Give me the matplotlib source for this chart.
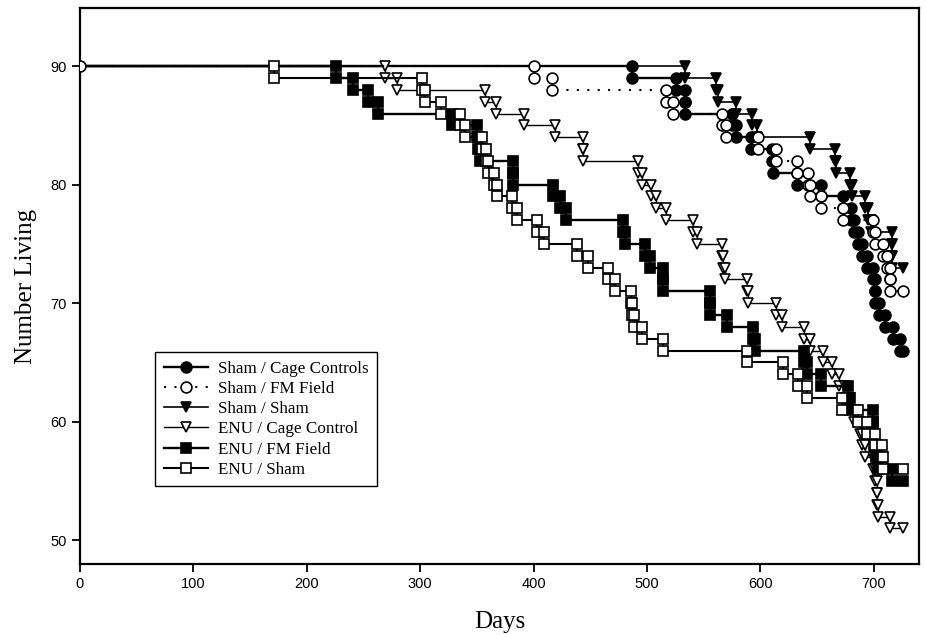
import matplotlib
matplotlib.use("Agg")
import matplotlib.pyplot as plt

# death days per group (ties repeated); every group starts with 90 animals
start_n = 90
end_day = 726

sham_cage_deaths = [487, 526, 534, 534, 575, 579, 592, 610, 611, 632, 654, 673,
                    680, 683, 686, 690, 694, 699, 701, 701, 705, 710, 717, 723]
sham_fm_deaths = [400, 416, 517, 523, 566, 570, 598, 614, 632, 642, 644, 654,
                  673, 699, 701, 708, 712, 714, 714]
sham_sham_deaths = [534, 561, 563, 579, 593, 597, 644, 666, 667, 679, 681, 692,
                    695, 698, 716, 716, 716]
enu_cage_deaths = [269, 280, 357, 367, 392, 419, 444, 444, 492, 496, 504, 508,
                   517, 541, 544, 566, 567, 569, 588, 589, 614, 619, 639, 644,
                   655, 663, 669, 675, 679, 683, 688, 690, 692, 699, 701, 703,
                   703, 704, 714]
enu_fm_deaths = [226, 241, 254, 263, 328, 350, 351, 353, 382, 382, 417, 423,
                 429, 479, 481, 498, 503, 514, 514, 556, 556, 571, 594, 595,
                 639, 641, 654, 677, 679, 699, 699, 700, 702, 704, 716]
enu_sham_deaths = [171, 302, 304, 318, 335, 340, 355, 358, 360, 365, 368, 381,
                   385, 403, 409, 438, 448, 466, 472, 486, 487, 489, 496, 514,
                   588, 620, 633, 641, 672, 686, 694, 701, 707, 708]

labels = ["Sham / Cage Controls", "Sham / FM Field", "Sham / Sham",
          "ENU / Cage Control", "ENU / FM Field", "ENU / Sham"]


def step_points(deaths):
    xs, ys = [0], [start_n]
    n = start_n
    for t in deaths:
        xs += [t, t]
        ys += [n, n - 1]
        n -= 1
    xs.append(end_day)
    ys.append(n)
    return xs, ys


styles = [
    dict(marker="o", mfc="black", ls="-", lw=1.7, ms=7.8),
    dict(marker="o", mfc="white", ls=(0, (1, 4)), lw=1.5, ms=7.8),
    dict(marker="v", mfc="black", ls="-", lw=1.2, ms=7.8),
    dict(marker="v", mfc="white", ls="-", lw=1.0, ms=7.8),
    dict(marker="s", mfc="black", ls="-", lw=1.7, ms=6.8),
    dict(marker="s", mfc="white", ls="-", lw=1.5, ms=6.8),
]
groups = [sham_cage_deaths, sham_fm_deaths, sham_sham_deaths,
          enu_cage_deaths, enu_fm_deaths, enu_sham_deaths]

fig = plt.figure(figsize=(9.26, 6.35), dpi=100)
ax = fig.add_axes([80 / 926, 1 - 564 / 635, 839 / 926, 556 / 635])

for i, (deaths, lab, st) in enumerate(zip(groups, labels, styles)):
    xs, ys = step_points(deaths)
    every = slice(0, None) if i == 1 else slice(1, None)
    ax.plot(xs, ys, color="black", linestyle=st["ls"], linewidth=st["lw"],
            marker=st["marker"], markersize=st["ms"], markerfacecolor=st["mfc"],
            markeredgecolor="black", markeredgewidth=1.2, markevery=every,
            label=lab, zorder=3 + (1 if i == 1 else 0))

ax.set_xlim(0, 740)
ax.set_ylim(48, 94.9)
ax.set_xticks(range(0, 701, 100))
ax.set_yticks(range(50, 91, 10))

for s in ax.spines.values():
    s.set_linewidth(1.6)
ax.tick_params(direction="out", length=6, width=1.3, labelsize=10.5)
for t in ax.get_xticklabels() + ax.get_yticklabels():
    t.set_family("Liberation Sans")

ax.set_xlabel("Days", family="Liberation Serif", fontsize=18, labelpad=14)
ax.set_ylabel("Number Living", family="Liberation Serif", fontsize=18, labelpad=10)

leg = ax.legend(loc="upper left", bbox_to_anchor=(155 / 926, 1 - 352 / 635),
                bbox_transform=fig.transFigure, borderaxespad=0,
                prop={"family": "Liberation Serif", "size": 12.3},
                fancybox=False, framealpha=1, edgecolor="black",
                handlelength=2.6, handletextpad=0.6, labelspacing=0.25,
                borderpad=0.5, numpoints=1)
leg.get_frame().set_linewidth(1.0)

fig.savefig("out.png", dpi=100)
